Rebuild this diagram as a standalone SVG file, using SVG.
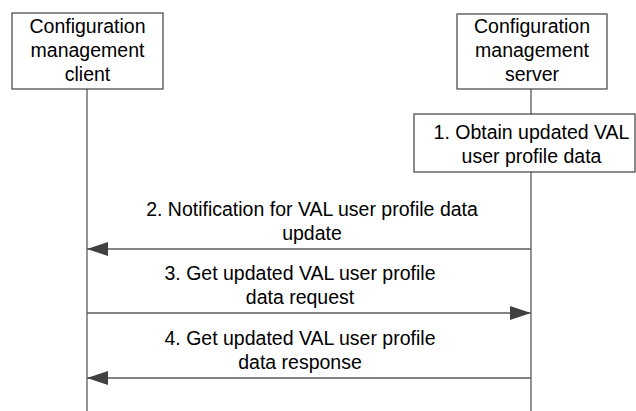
<svg xmlns="http://www.w3.org/2000/svg" width="636" height="411" viewBox="0 0 636 411">
<style>
.box{fill:#fff;stroke:#404040;stroke-width:1.2}
.life{stroke:#5a5a5a;stroke-width:1.3;fill:none}
.msg{stroke:#5a5a5a;stroke-width:1.3;fill:none}
text{font-family:"Liberation Sans",Arial,sans-serif;font-size:19.5px;fill:#000;text-anchor:middle}
</style>
<defs>
<marker id="ah" markerWidth="22" markerHeight="14" refX="21" refY="7" orient="auto" markerUnits="userSpaceOnUse">
<path d="M0,0 L21,7 L0,14 Z" fill="#404040"/>
</marker>
</defs>
<rect width="636" height="411" fill="#fff"/>
<g id="lifelines">
<line class="life" x1="87" y1="89" x2="87" y2="411"/>
<line class="life" x1="531" y1="89" x2="531" y2="114"/>
<line class="life" x1="531" y1="172" x2="531" y2="411"/>
</g>
<g id="client">
<rect class="box" x="12" y="13" width="151" height="76"/>
<text x="87.5" y="33">Configuration</text>
<text x="87.5" y="57">management</text>
<text x="87.5" y="81">client</text>
</g>
<g id="server">
<rect class="box" x="457" y="14" width="150" height="75"/>
<text x="532" y="33">Configuration</text>
<text x="532" y="57">management</text>
<text x="532" y="81">server</text>
</g>
<g id="step1">
<rect class="box" x="414" y="114" width="221" height="58"/>
<text x="531.5" y="139">1. Obtain updated VAL</text>
<text x="531.5" y="163">user profile data</text>
</g>
<g id="connectors">
<line class="msg" x1="531" y1="249" x2="87" y2="249" marker-end="url(#ah)"/>
<line class="msg" x1="87" y1="313" x2="531" y2="313" marker-end="url(#ah)"/>
<line class="msg" x1="531" y1="378" x2="87" y2="378" marker-end="url(#ah)"/>
</g>
<g id="labels">
<text x="312" y="216">2. Notification for VAL user profile data</text>
<text x="312" y="240">update</text>
<text x="300" y="280">3. Get updated VAL user profile</text>
<text x="300" y="304">data request</text>
<text x="300" y="345">4. Get updated VAL user profile</text>
<text x="300" y="369">data response</text>
</g>
</svg>
